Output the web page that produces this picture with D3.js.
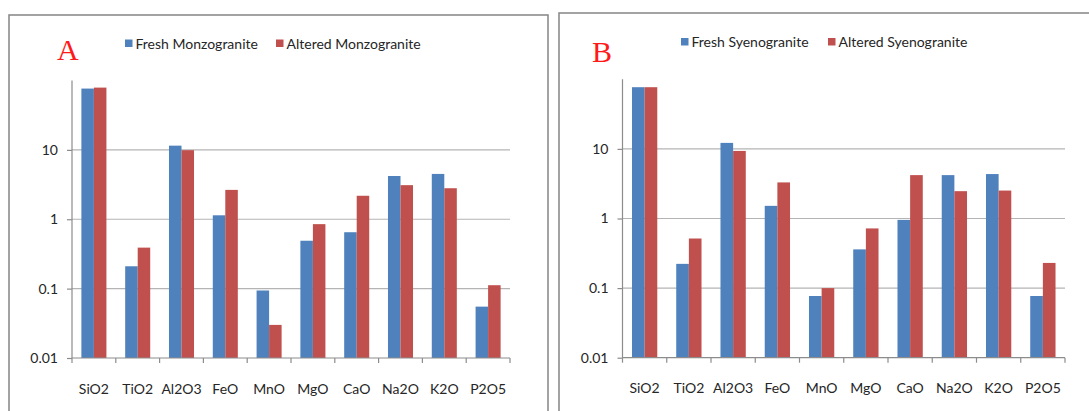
<!DOCTYPE html>
<html>
<head>
<meta charset="utf-8">
<script src="https://cdn.jsdelivr.net/npm/d3@7"></script>
<style>
  html, body { margin: 0; padding: 0; background: #fff; }
  svg { display: block; }
  text { font-family: Lato, "Liberation Sans", sans-serif; }
</style>
</head>
<body>
<svg id="chart" width="1089" height="411"></svg>
<script>
// Major oxides (wt%), log scale
const oxides = ["SiO2", "TiO2", "Al2O3", "FeO", "MnO", "MgO", "CaO", "Na2O", "K2O", "P2O5"];

const freshMonzogranite   = [76.5, 0.21, 11.5, 1.14, 0.094, 0.49, 0.65, 4.2, 4.5, 0.055];
const alteredMonzogranite = [79.0, 0.39, 9.9, 2.65, 0.030, 0.85, 2.18, 3.1, 2.8, 0.112];

const freshSyenogranite   = [77.0, 0.223, 12.2, 1.52, 0.077, 0.36, 0.955, 4.2, 4.35, 0.077];
const alteredSyenogranite = [77.0, 0.516, 9.35, 3.3, 0.100, 0.72, 4.2, 2.47, 2.52, 0.23];

const yTickValues = [0.01, 0.1, 1, 10];
const yTickLabels = ["0.01", "0.1", "1", "10"];

const seriesColors = ["#4F81BD", "#C0504D"];

const panels = [
  {
    letter: "A",
    names: ["Fresh Monzogranite", "Altered Monzogranite"],
    values: [freshMonzogranite, alteredMonzogranite],
    frame: { x: 9, y: 15, w: 539, h: 420 },
    plot: { left: 72, right: 510, top: 80.5, bottom: 358 },
    letterPos: { x: 57, y: 60 },
    legend: [{ x: 125, y: 43.5 }, { x: 276, y: 43.5 }]
  },
  {
    letter: "B",
    names: ["Fresh Syenogranite", "Altered Syenogranite"],
    values: [freshSyenogranite, alteredSyenogranite],
    frame: { x: 559, y: 13, w: 560, h: 420 },
    plot: { left: 622.5, right: 1065, top: 79.3, bottom: 357.7 },
    letterPos: { x: 592, y: 62 },
    legend: [{ x: 681, y: 42 }, { x: 828, y: 42 }]
  }
];

const svg = d3.select("#chart");
const textSize = "14px";

panels.forEach(p => {
  const g = svg.append("g");

  // panel frame
  g.append("rect")
    .attr("x", p.frame.x).attr("y", p.frame.y)
    .attr("width", p.frame.w).attr("height", p.frame.h)
    .attr("fill", "none").attr("stroke", "#8c8c8c").attr("stroke-width", 1.6);

  const x0 = d3.scaleBand()
    .domain(oxides)
    .range([p.plot.left, p.plot.right])
    .paddingInner(3 / 7)
    .paddingOuter(3 / 14);

  const x1 = d3.scaleBand()
    .domain(d3.range(p.values.length))
    .range([0, x0.bandwidth()]);

  const y = d3.scaleLog()
    .domain([0.01, 100])
    .range([p.plot.bottom, p.plot.top]);

  // horizontal gridlines
  g.append("g")
    .selectAll("line")
    .data(yTickValues.filter(v => v > 0.01))
    .join("line")
    .attr("x1", p.plot.left).attr("x2", p.plot.right)
    .attr("y1", d => y(d)).attr("y2", d => y(d))
    .attr("stroke", "#b4b4b4").attr("stroke-width", 1.2);

  // bars
  const rows = oxides.map((ox, i) => ({ ox, vals: p.values.map(s => s[i]) }));
  g.append("g")
    .selectAll("g")
    .data(rows)
    .join("g")
    .attr("transform", d => `translate(${x0(d.ox)},0)`)
    .selectAll("rect")
    .data(d => d.vals.map((v, k) => ({ v, k })))
    .join("rect")
    .attr("x", d => x1(d.k))
    .attr("width", x1.bandwidth())
    .attr("y", d => y(d.v))
    .attr("height", d => y(0.01) - y(d.v))
    .attr("fill", d => seriesColors[d.k]);

  // y axis
  const yAxis = d3.axisLeft(y)
    .tickValues(yTickValues)
    .tickFormat((d, i) => yTickLabels[i])
    .tickSize(5)
    .tickPadding(9);
  const ya = g.append("g")
    .attr("transform", `translate(${p.plot.left},0)`)
    .call(yAxis);
  ya.select(".domain").attr("stroke", "#8c8c8c").attr("stroke-width", 1.2)
    .attr("d", `M0,${p.plot.top}V${p.plot.bottom}`);
  ya.selectAll(".tick line").attr("stroke", "#8c8c8c").attr("stroke-width", 1.2);
  ya.selectAll(".tick text")
    .attr("fill", "#262626")
    .style("font-family", null)
    .attr("font-family", null)
    .style("font-size", textSize);

  // x axis: category labels with boundary ticks
  const xa = g.append("g").attr("transform", `translate(0,${p.plot.bottom})`);
  xa.append("line")
    .attr("x1", p.plot.left).attr("x2", p.plot.right)
    .attr("stroke", "#8c8c8c").attr("stroke-width", 1.2);
  const step = x0.step();
  xa.selectAll("line.bound")
    .data(d3.range(oxides.length + 1))
    .join("line")
    .attr("class", "bound")
    .attr("x1", i => p.plot.left + i * step).attr("x2", i => p.plot.left + i * step)
    .attr("y1", 0).attr("y2", 5)
    .attr("stroke", "#8c8c8c").attr("stroke-width", 1.2);
  xa.selectAll("text")
    .data(oxides)
    .join("text")
    .attr("x", d => x0(d) + x0.bandwidth() / 2)
    .attr("y", 35.5)
    .attr("text-anchor", "middle")
    .attr("fill", "#262626")
    .style("font-size", textSize)
    .text(d => d);

  // panel letter
  g.append("text")
    .attr("x", p.letterPos.x).attr("y", p.letterPos.y)
    .attr("fill", "#ff1a1a")
    .style("font-family", "'Liberation Serif', 'Times New Roman', serif")
    .style("font-size", "30px")
    .text(p.letter);

  // legend
  p.names.forEach((name, k) => {
    const L = p.legend[k];
    g.append("rect")
      .attr("x", L.x).attr("y", L.y - 4)
      .attr("width", 7.5).attr("height", 7.5)
      .attr("fill", seriesColors[k]);
    g.append("text")
      .attr("x", L.x + 10.5).attr("y", L.y + 5)
      .attr("fill", "#262626")
      .style("font-size", textSize)
      .text(name);
  });
});
</script>
</body>
</html>
